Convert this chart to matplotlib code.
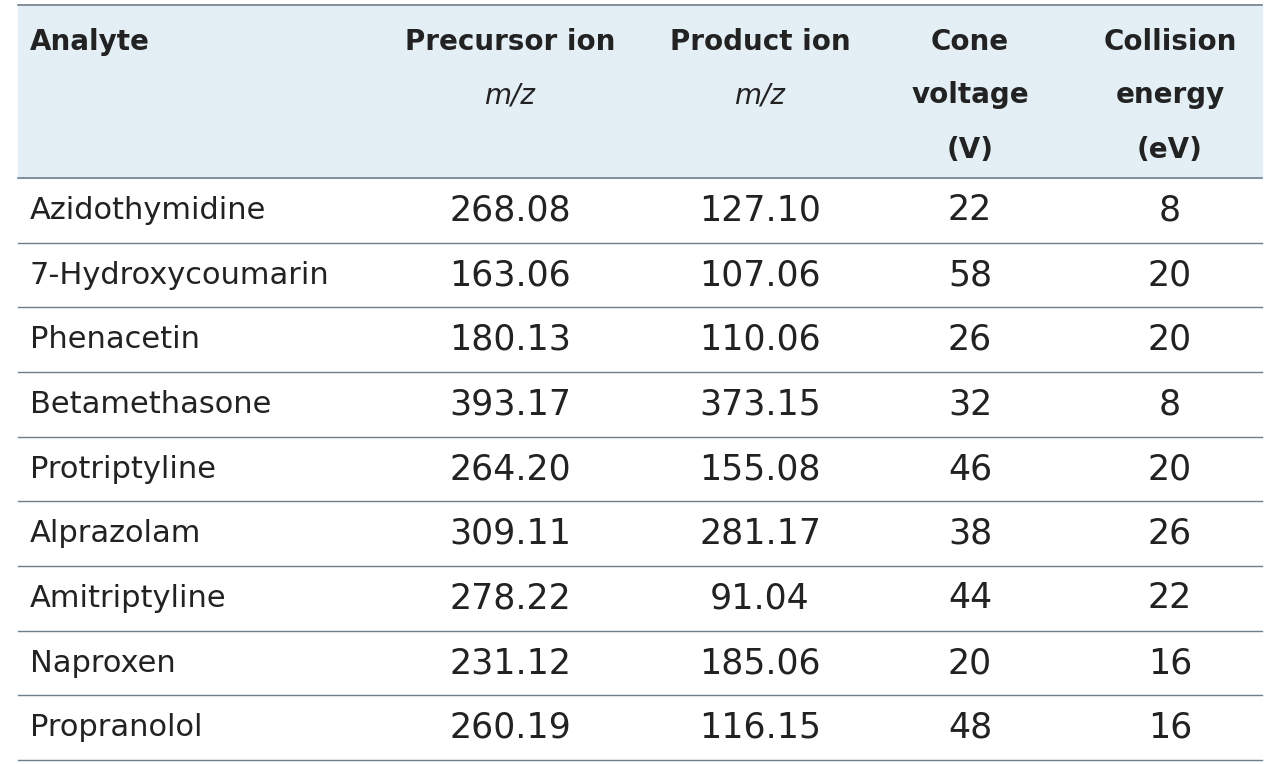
import matplotlib.pyplot as plt

analytes = ["Azidothymidine", "7-Hydroxycoumarin", "Phenacetin", "Betamethasone",
            "Protriptyline", "Alprazolam", "Amitriptyline", "Naproxen", "Propranolol"]
precursor = ["268.08", "163.06", "180.13", "393.17", "264.20", "309.11", "278.22", "231.12", "260.19"]
product = ["127.10", "107.06", "110.06", "373.15", "155.08", "281.17", "91.04", "185.06", "116.15"]
cone = ["22", "58", "26", "32", "46", "38", "44", "20", "48"]
collision = ["8", "20", "20", "8", "20", "26", "22", "16", "16"]

W, H = 1280, 764
fig = plt.figure(figsize=(W / 100, H / 100), dpi=100)
ax = fig.add_axes([0, 0, 1, 1])
ax.set_xlim(0, W)
ax.set_ylim(H, 0)
ax.axis("off")

font = "DejaVu Sans"
fs = 20
lc = "#6f7f8c"
ax.add_patch(plt.Rectangle((18, 5), 1244, 173, color="#e4eef5", zorder=0))
ax.plot([18, 1262], [5, 5], color=lc, lw=1.2)
ax.plot([18, 1262], [178, 178], color=lc, lw=1.2)

cols = [510, 760, 970, 1170]
hdr = dict(fontsize=fs, fontweight="bold", color="#222222", family=font, va="center")
ax.text(30, 42, "Analyte", ha="left", **hdr)
for x, t in zip(cols, ["Precursor ion", "Product ion", "Cone", "Collision"]):
    ax.text(x, 42, t, ha="center", **hdr)
for x in cols[:2]:
    ax.text(x, 95, "m/z", ha="center", fontsize=fs, style="italic", family=font, va="center", color="#222222")
ax.text(cols[2], 95, "voltage", ha="center", **hdr)
ax.text(cols[3], 95, "energy", ha="center", **hdr)
ax.text(cols[2], 150, "(V)", ha="center", **hdr)
ax.text(cols[3], 150, "(eV)", ha="center", **hdr)

row_h = (760 - 178) / len(analytes)
for i, name in enumerate(analytes):
    yc = 178 + row_h * (i + 0.5)
    ax.text(30, yc, name, ha="left", va="center", fontsize=22, family=font, color="#222222")
    for x, v in zip(cols, [precursor[i], product[i], cone[i], collision[i]]):
        ax.text(x, yc, v, ha="center", va="center", fontsize=25, family=font, color="#222222")
    yb = 178 + row_h * (i + 1)
    ax.plot([18, 1262], [yb, yb], color=lc, lw=1.0)

fig.savefig("out.png", dpi=100, facecolor="white")
